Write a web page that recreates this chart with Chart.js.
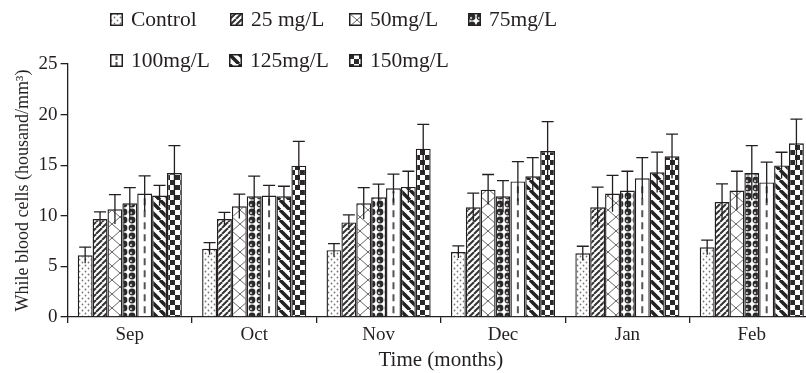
<!DOCTYPE html>
<html>
<head>
<meta charset="utf-8">
<script src="https://cdn.jsdelivr.net/npm/chart.js@4"></script>
<style>
html, body { margin: 0; padding: 0; background: #fff; overflow: hidden; }
#wrap { position: relative; width: 820px; height: 373px; }
#legend { position: absolute; left: 0; top: 0; font-family: "Liberation Serif", serif; font-size: 21.5px; color: #231f20; }
.item { position: absolute; display: flex; align-items: center; white-space: nowrap; height: 24px; }
.item canvas { margin-right: 8px; }
</style>
</head>
<body>
<div id="wrap">
  <canvas id="chart" width="820" height="373"></canvas>
  <div id="legend"></div>
</div>
<script>
const months = ["Sep", "Oct", "Nov", "Dec", "Jan", "Feb"];
const doses = ["Control", "25 mg/L", "50mg/L", "75mg/L", "100mg/L", "125mg/L", "150mg/L"];

// mean values (thousand/mm3)
const control = [6.1, 6.75, 6.6, 6.42, 6.29, 6.88];
const dose25 = [9.68, 9.68, 9.35, 10.84, 10.84, 11.36];
const dose50 = [10.64, 10.94, 11.23, 12.58, 12.2, 12.5];
const dose75 = [11.23, 11.92, 11.83, 11.92, 12.5, 14.23];
const dose100 = [12.2, 12.0, 12.72, 13.4, 13.7, 13.3];
const dose125 = [12.0, 11.92, 12.85, 13.9, 14.3, 14.98];
const dose150 = [14.23, 14.95, 16.63, 16.4, 15.88, 17.16];

// standard errors
const controlErr = [0.8, 0.6, 0.65, 0.6, 0.7, 0.72];
const dose25Err = [0.7, 0.65, 0.75, 1.4, 2.0, 1.8];
const dose50Err = [1.45, 1.2, 1.55, 1.5, 1.8, 1.9];
const dose75Err = [1.55, 2.0, 1.3, 1.55, 1.9, 2.7];
const dose100Err = [1.75, 1.0, 1.4, 1.95, 2.05, 2.0];
const dose125Err = [1.0, 1.0, 1.55, 1.85, 2.0, 1.3];
const dose150Err = [2.7, 2.4, 2.4, 2.9, 2.2, 2.4];

const values = [control, dose25, dose50, dose75, dose100, dose125, dose150];
const errors = [controlErr, dose25Err, dose50Err, dose75Err, dose100Err, dose125Err, dose150Err];

const ink = "#231f20";
const font = "'Liberation Serif', serif";

function makeTile(w, h, draw) {
  const c = document.createElement("canvas");
  c.width = w;
  c.height = h;
  const g = c.getContext("2d");
  g.fillStyle = "#fff";
  g.fillRect(0, 0, w, h);
  draw(g, w, h);
  return c;
}

const tiles = [
  makeTile(6, 6, (g) => {
    g.fillStyle = "#777";
    g.beginPath(); g.arc(1.5, 1.5, 0.9, 0, Math.PI * 2); g.fill();
    g.beginPath(); g.arc(4.5, 4.5, 0.9, 0, Math.PI * 2); g.fill();
  }),
  makeTile(6, 6, (g, w, h) => {
    g.strokeStyle = "#333";
    g.lineWidth = 2;
    for (let k = -1; k <= 1; k++) {
      g.beginPath(); g.moveTo(k * w, h); g.lineTo(k * w + w, 0); g.stroke();
    }
  }),
  makeTile(16, 14, (g, w, h) => {
    g.strokeStyle = "#666";
    g.lineWidth = 1;
    g.beginPath(); g.moveTo(0, 0); g.lineTo(w, h); g.stroke();
    g.beginPath(); g.moveTo(w, 0); g.lineTo(0, h); g.stroke();
  }),
  makeTile(8, 8, (g) => {
    g.fillStyle = "#2a2a2a";
    g.beginPath(); g.arc(4, 4, 3.4, 0, Math.PI * 2); g.fill();
    g.fillStyle = "#bbb";
    g.beginPath(); g.arc(3, 5, 1.2, 0, Math.PI * 2); g.fill();
  }),
  makeTile(4, 4, () => {}),
  makeTile(10, 10, (g, w, h) => {
    g.strokeStyle = "#222";
    g.lineWidth = 3.5;
    for (let k = -1; k <= 1; k++) {
      g.beginPath(); g.moveTo(k * w, 0); g.lineTo(k * w + w, h); g.stroke();
    }
  }),
  makeTile(10, 10, (g) => {
    g.fillStyle = "#2a2a2a";
    g.fillRect(0, 0, 5, 5);
    g.fillRect(5, 5, 5, 5);
  })
];

const ctx = document.getElementById("chart").getContext("2d");
const patterns = tiles.map((t) => ctx.createPattern(t, "repeat"));

// legend
const legendPos = [[110, 7], [230, 7], [349, 7], [468, 7], [110, 48], [229, 48], [349, 48]];
const legend = document.getElementById("legend");
doses.forEach((name, i) => {
  const item = document.createElement("div");
  item.className = "item";
  item.style.left = legendPos[i][0] + "px";
  item.style.top = legendPos[i][1] + "px";
  const sw = document.createElement("canvas");
  sw.width = 13;
  sw.height = 13;
  const g = sw.getContext("2d");
  g.fillStyle = g.createPattern(tiles[i], "repeat");
  g.fillRect(0, 0, 13, 13);
  if (i === 4) {
    g.fillStyle = "#555";
    g.fillRect(5.5, 2, 2, 4);
    g.fillRect(5.5, 8, 2, 4);
  }
  g.strokeStyle = ink;
  g.lineWidth = 1.5;
  g.strokeRect(0.75, 0.75, 11.5, 11.5);
  item.appendChild(sw);
  const label = document.createElement("span");
  label.textContent = name;
  item.appendChild(label);
  legend.appendChild(item);
});

const errorBars = {
  id: "errorBars",
  afterDatasetDraw(chart, args) {
    if (args.index !== 4) return;
    const g = chart.ctx;
    g.save();
    g.strokeStyle = "#555";
    g.lineWidth = 2;
    g.setLineDash([7, 5]);
    args.meta.data.forEach((bar) => {
      g.beginPath();
      g.moveTo(bar.x, bar.base - 3);
      g.lineTo(bar.x, bar.y + 3);
      g.stroke();
    });
    g.restore();
  },
  afterDatasetsDraw(chart) {
    const g = chart.ctx;
    const y = chart.scales.y;
    g.save();
    g.strokeStyle = ink;
    g.lineWidth = 1.3;
    errors.forEach((errs, i) => {
      chart.getDatasetMeta(i).data.forEach((bar, j) => {
        const v = values[i][j];
        const top = y.getPixelForValue(v + errs[j]);
        const bot = y.getPixelForValue(v - errs[j]);
        g.beginPath();
        g.moveTo(bar.x, bot);
        g.lineTo(bar.x, top);
        g.moveTo(bar.x - 6, top);
        g.lineTo(bar.x + 6, top);
        g.stroke();
      });
    });
    g.restore();
  }
};

new Chart(ctx, {
  type: "bar",
  data: {
    labels: months,
    datasets: doses.map((name, i) => ({
      label: name,
      data: values[i],
      backgroundColor: patterns[i],
      borderColor: ink,
      borderWidth: 1.4,
      barPercentage: 1,
      categoryPercentage: 0.837
    }))
  },
  options: {
    responsive: false,
    animation: false,
    devicePixelRatio: 1,
    layout: { padding: { top: 64, right: 6, bottom: 0, left: 12 } },
    plugins: {
      legend: { display: false },
      tooltip: { enabled: false }
    },
    scales: {
      x: {
        grid: { offset: true, drawOnChartArea: false, tickLength: 6, color: ink, lineWidth: 1.3 },
        border: { color: ink, width: 1.3 },
        ticks: { color: ink, font: { family: font, size: 19 }, padding: 1 },
        title: { display: true, text: "Time (months)", color: ink, font: { family: font, size: 21 }, padding: { top: 0, bottom: 0 } }
      },
      y: {
        min: 0,
        max: 25,
        grid: { drawOnChartArea: false, tickLength: 7, color: ink, lineWidth: 1.3 },
        border: { color: ink, width: 1.3 },
        ticks: { stepSize: 5, color: ink, font: { family: font, size: 19 }, padding: 3 },
        title: { display: true, text: "While blood cells (housand/mm³)", color: ink, font: { family: font, size: 18 }, padding: { top: 0, bottom: 2 } }
      }
    }
  },
  plugins: [errorBars]
});
</script>
</body>
</html>
